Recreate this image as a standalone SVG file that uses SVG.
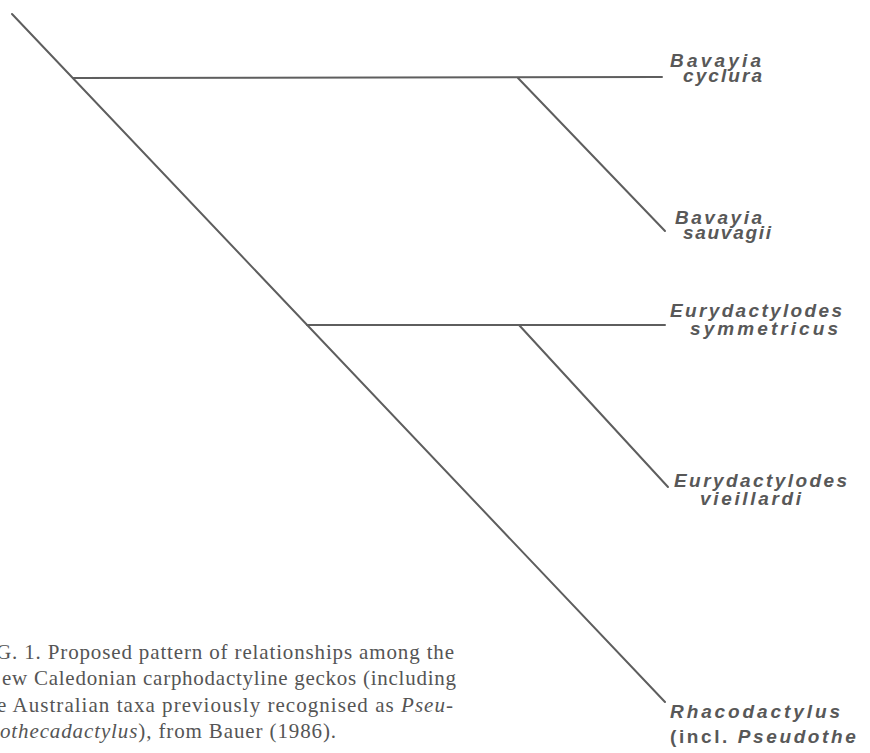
<svg xmlns="http://www.w3.org/2000/svg" width="870" height="753" viewBox="0 0 870 753">
<style>
.br{stroke:#5e5e5e;stroke-width:2;fill:none;stroke-linecap:round}
.lb{font-family:"Liberation Sans",Arial,sans-serif;font-weight:bold;font-style:italic;font-size:19px;fill:#585858}
.cp{font-family:"Liberation Serif","Times New Roman",serif;font-size:21px;fill:#555}
</style>
<rect width="870" height="753" fill="#fff"/>
<g id="connectors">
<line class="br" x1="12" y1="14" x2="665" y2="702"/>
<line class="br" x1="73" y1="78" x2="662" y2="77"/>
<line class="br" x1="518" y1="78" x2="665" y2="231"/>
<line class="br" x1="307" y1="325" x2="665" y2="325"/>
<line class="br" x1="519" y1="325" x2="668" y2="487"/>
</g>
<g id="bavayia-cyclura">
<text class="lb" x="670" y="67" textLength="91" lengthAdjust="spacing">Bavayia</text>
<text class="lb" x="683" y="82" textLength="79" lengthAdjust="spacing">cyclura</text>
</g>
<g id="bavayia-sauvagii">
<text class="lb" x="675" y="224" textLength="87" lengthAdjust="spacing">Bavayia</text>
<text class="lb" x="683" y="239" textLength="88" lengthAdjust="spacing">sauvagii</text>
</g>
<g id="eurydactylodes-symmetricus">
<text class="lb" x="670" y="317" textLength="172" lengthAdjust="spacing">Eurydactylodes</text>
<text class="lb" x="690" y="335" textLength="148" lengthAdjust="spacing">symmetricus</text>
</g>
<g id="eurydactylodes-vieillardi">
<text class="lb" x="674" y="487" textLength="173" lengthAdjust="spacing">Eurydactylodes</text>
<text class="lb" x="700" y="505" textLength="101" lengthAdjust="spacing">vieillardi</text>
</g>
<g id="rhacodactylus">
<text class="lb" x="670" y="718" textLength="170" lengthAdjust="spacing">Rhacodactylus</text>
<text class="lb" x="670" y="743" letter-spacing="2.6"><tspan font-style="normal">(incl.</tspan> Pseudothe</text>
</g>
<g id="caption">
<text class="cp" x="-4" y="659" textLength="458" lengthAdjust="spacing">G. 1. Proposed pattern of relationships among the</text>
<text class="cp" x="2" y="685" textLength="454" lengthAdjust="spacing">ew Caledonian carphodactyline geckos (including</text>
<text class="cp" x="-3" y="712" textLength="456" lengthAdjust="spacing">e Australian taxa previously recognised as <tspan font-style="italic">Pseu-</tspan></text>
<text class="cp" x="0" y="738" textLength="336" lengthAdjust="spacing"><tspan font-style="italic">othecadactylus</tspan>), from Bauer (1986).</text>
</g>
</svg>
